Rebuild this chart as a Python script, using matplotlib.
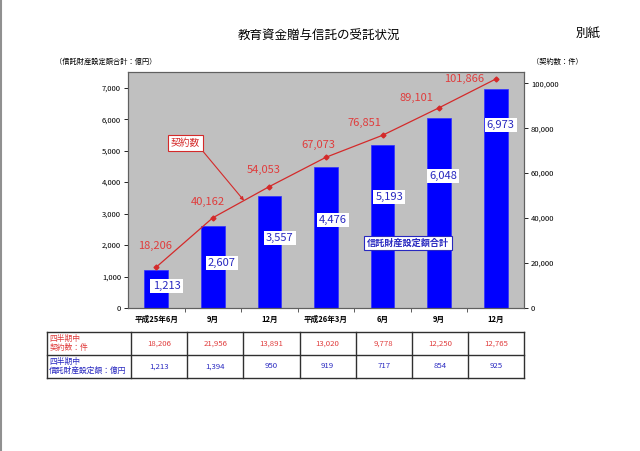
import matplotlib
matplotlib.use("Agg")
import matplotlib.pyplot as plt
from matplotlib.lines import Line2D

plt.rcParams['font.family'] = ['Noto Sans CJK JP', 'DejaVu Sans']

# 期間 (四半期末)
periods = ["平成25年6月", "9月", "12月", "平成26年3月", "6月", "9月", "12月"]
# 累計: 信託財産設定額合計 (億円) / 契約数 (件)
trust_total = [1213, 2607, 3557, 4476, 5193, 6048, 6973]
contracts_total = [18206, 40162, 54053, 67073, 76851, 89101, 101866]
# 四半期中の値 (下の表)
contracts_quarter = [18206, 21956, 13891, 13020, 9778, 12250, 12765]
trust_quarter = [1213, 1394, 950, 919, 717, 854, 925]

# ラベル位置 (元のExcelで手で動かしてある位置に合わせる)
bar_label_y = [700, 1430, 2225, 2800, 3525, 4195, 5815]
bar_label_dx = [0.18, 0.16, 0.18, 0.12, 0.12, 0.07, 0.09]
line_label_off = [(-1, 21), (-5, 16), (-6, 17), (-8, 12), (-18, 12), (-23, 10), (-32, 0)]

RED = "#D42A2A"
RED_TXT = "#E03C3C"
BLUE_TXT = "#2828C0"
W, H = 640, 451


def px_rect(l, t, r, b):
    return [l / W, 1 - b / H, (r - l) / W, (b - t) / H]


fig = plt.figure(figsize=(W / 100, H / 100), dpi=100)
fig.patch.set_facecolor("white")

ax = fig.add_axes(px_rect(128, 72, 524, 308))
x = list(range(len(periods)))
ax.set_facecolor("#C0C0C0")
ax.bar(x, trust_total, width=0.42, color="#0000FF", edgecolor="#3030FF", linewidth=0.5, zorder=2)
ax.set_xlim(-0.5, 6.5)
ax.set_ylim(0, 7500)
ax.set_yticks(range(0, 7001, 1000))
ax.set_yticklabels([f"{v:,}" for v in range(0, 7001, 1000)], fontsize=5.5)
ax.set_xticks(x)
ax.set_xticklabels(periods, fontsize=5.5, fontweight="bold")
ax.set_xticks([i + 0.5 for i in x[:-1]], minor=True)
ax.tick_params(axis="x", which="major", length=0, pad=5)
ax.tick_params(axis="x", which="minor", length=3, width=0.6, color="#404040")
ax.tick_params(axis="y", length=3, width=0.6, pad=2)
for s in ax.spines.values():
    s.set_color("#606060")
    s.set_linewidth(0.8)

for i, v in enumerate(trust_total):
    ax.text(i + bar_label_dx[i], bar_label_y[i], f"{v:,}", fontsize=8, color=BLUE_TXT,
            ha="center", va="center", zorder=4,
            bbox=dict(boxstyle="square,pad=0.2", fc="white", ec="none"))

ax2 = ax.twinx()
ax2.set_ylim(0, 105000)
ax2.set_yticks(range(0, 100001, 20000))
ax2.set_yticklabels([f"{v:,}" for v in range(0, 100001, 20000)], fontsize=5.5)
ax2.tick_params(axis="y", length=3, width=0.6, pad=2)
for s in ax2.spines.values():
    s.set_color("#606060")
    s.set_linewidth(0.8)
ax2.plot(x, contracts_total, color=RED, linewidth=0.9, marker="D", markersize=2.5, zorder=3)
for i, v in enumerate(contracts_total):
    ax2.annotate(f"{v:,}", (i, v), xytext=line_label_off[i], textcoords="offset pixels",
                 fontsize=8, color=RED_TXT, ha="center", va="center")

# 吹き出し
t = 0.55
ax2.annotate("契約数", xy=(1 + t, contracts_total[1] + t * (contracts_total[2] - contracts_total[1])),
             xytext=(0.145, 0.70), textcoords="axes fraction", fontsize=7, color=RED,
             ha="center", va="center",
             bbox=dict(boxstyle="square,pad=0.3", fc="white", ec=RED, lw=0.8),
             arrowprops=dict(arrowstyle="-|>", color=RED, lw=0.8, mutation_scale=5,
                             shrinkA=0, shrinkB=0, relpos=(1, 0)))
ax2.text(0.707, 0.275, "信託財産設定額合計", transform=ax.transAxes, fontsize=6.6,
         fontweight="bold", color=BLUE_TXT, ha="center", va="center",
         bbox=dict(boxstyle="square,pad=0.3", fc="white", ec=BLUE_TXT, lw=0.8))

# 下の表
tax = fig.add_axes(px_rect(47, 332, 524, 378))
tax.set_xlim(-2, 6.5)
tax.set_ylim(0, 2)
tax.axis("off")
line_kw = dict(color="#303030", linewidth=1.0, clip_on=False)
for yy in (0, 1, 2):
    tax.plot([-2, 6.5], [yy, yy], **line_kw)
for xx in [-2] + [i - 0.5 for i in x] + [6.5]:
    tax.plot([xx, xx], [0, 2], **line_kw)
tax.text(-1.96, 1.5, "四半期中\n契約数：件", fontsize=5.6, color=RED_TXT, ha="left", va="center",
         linespacing=1.15)
tax.text(-1.96, 0.5, "四半期中\n信託財産設定額：億円", fontsize=5.6, color=BLUE_TXT, ha="left",
         va="center", linespacing=1.15)
for i in x:
    tax.text(i, 1.5, f"{contracts_quarter[i]:,}", fontsize=5.6, color=RED_TXT, ha="center", va="center")
    tax.text(i, 0.5, f"{trust_quarter[i]:,}", fontsize=5.6, color=BLUE_TXT, ha="center", va="center")

fig.text(319 / W, 1 - 35 / H, "教育資金贈与信託の受託状況", fontsize=9, ha="center", va="center")
fig.text(588 / W, 1 - 33 / H, "別紙", fontsize=9, ha="center", va="center")
fig.text(55 / W, 1 - 62 / H, "（信託財産設定額合計：億円）", fontsize=5.2, ha="left", va="center")
fig.text(532 / W, 1 - 62 / H, "（契約数：件）", fontsize=5.2, ha="left", va="center")
fig.add_artist(Line2D([1 / W, 1 / W], [0, 1], color="#909090", linewidth=1.5))

fig.savefig("out.png", dpi=100)
